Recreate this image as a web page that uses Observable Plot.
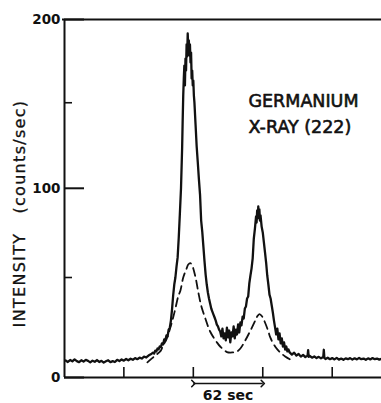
<!DOCTYPE html>
<html>
<head>
<meta charset="utf-8">
<script src="https://cdn.jsdelivr.net/npm/d3@7"></script>
<script src="https://cdn.jsdelivr.net/npm/@observablehq/plot@0.6"></script>
<style>
  html, body { margin: 0; padding: 0; background: #fff; }
  #chart svg { display: block; }
</style>
</head>
<body>
<div id="chart"></div>
<script>
// Labels
const titleLines = ["GERMANIUM", "X-RAY (222)"];
const yTitle = "INTENSITY\u00a0\u00a0\u00a0(counts/sec)";
const periodLabel = "62 sec";

// Axis ticks (intensity in counts/sec, time in seconds)
const yTickLabels = [0, 100, 200];
const yMinorTicks = [50, 150];
const xTicks = [62, 124, 186, 248];
const periodSpan = [124, 186];

// Recorded scan: [time (s), intensity (counts/sec)]
const measured = [
  [10,7.3],[12,6.6],[14,7.5],[16,6.9],[18,7.8],[20,7.0],[22,6.5],[24,7.4],[26,6.8],[28,7.6],
  [30,7.1],[32,6.4],[34,7.2],[36,6.7],[38,7.5],[40,6.6],[42,7.1],[44,6.3],[46,6.9],[48,7.4],
  [50,6.5],[52,7.0],[54,6.6],[56,7.6],[58,7.0],[60,7.8],[62,7.2],[64,8.0],[66,7.4],[68,8.1],
  [70,7.6],[72,8.4],[74,7.9],[76,8.6],[78,8.2],[80,9.1],[82,8.7],[84,9.6],[86,10.2],[88,11.0],
  [89,10.6],[90,12.0],[91,11.6],[92,13.0],[93,12.6],[94,14.0],[95,13.7],[96,15.5],[97,15.0],[98,17.5],
  [99,17.0],[100,19.5],[101,19.0],[102,22.5],[103,23.4],[104,27.1],[105,33.0],[106,40.3],[107,46.2],[108,50.0],
  [109,56.0],[110,61.0],[111,72.1],[112,85.6],[113,99.9],[114,123.1],[114.5,139.5],[115,154.3],[115.5,164.4],[116,172.2],
  [116.5,160.3],[117,176.4],[117.5,169.2],[118,184.9],[118.5,177.6],[119,191.5],[119.5,182.5],[120,187.3],[120.5,178.2],[121,184.9],
  [121.5,174.0],[122,180.0],[122.5,164.4],[123,169.2],[123.5,160.3],[124,163.2],[124.5,154.3],[125,150.1],[126,137.1],[127,124.2],
  [128,114.9],[129,105.1],[130,96.4],[131,81.6],[132,75.2],[133,67.0],[134,58.8],[135,51.6],[136,46.2],[137,41.9],
  [138,38.7],[139,36.0],[140,33.4],[141,31.8],[142,30.2],[143,28.7],[144,27.1],[145,25.0],[146,24.1],[147,22.4],
  [148,21.5],[149,19.0],[150,23.0],[151,18.0],[152,20.5],[153,17.0],[154,23.5],[155,18.5],[156,22.0],[157,16.0],
  [158,21.0],[159,19.0],[160,24.1],[161,18.0],[162,22.5],[163,20.0],[164,25.1],[165,21.0],[166,26.1],[167,24.6],
  [168,29.2],[169,28.2],[170,33.4],[171,34.5],[172,38.7],[173,39.8],[174,46.8],[175,51.1],[176,55.0],[177,60.5],
  [178,71.5],[179,77.1],[180,83.9],[180.5,80.5],[181,87.3],[181.5,82.8],[182,89.6],[182.5,85.0],[183,87.9],[183.5,81.6],
  [184,84.5],[185,78.2],[186,74.9],[187,69.3],[188,63.8],[189,58.2],[190,51.1],[191,46.2],[192,40.8],[193,38.7],
  [194,35.0],[195,31.3],[196,27.1],[197,23.5],[198,20.0],[199,23.0],[200,17.5],[201,20.5],[202,15.5],[203,18.0],
  [204,14.0],[205,16.0],[206,12.5],[207,14.0],[208,11.6],[209,12.5],[210,11.1],[212,10.1],[214,11.0],[216,9.6],
  [218,10.4],[220,9.1],[222,9.9],[224,8.9],[226,9.6],[226.5,12.2],[227,9.0],[228,9.4],[230,8.6],[232,9.2],
  [234,8.4],[236,9.0],[238,8.3],[240,8.9],[240.5,12.4],[241,8.5],[242,8.0],[244,8.6],[246,7.9],[248,8.4],
  [250,7.8],[252,8.5],[254,7.7],[256,8.2],[258,7.6],[260,8.3],[262,7.9],[264,8.4],[266,7.7],[268,8.3],
  [270,7.8],[272,8.5],[274,7.9],[276,8.2],[278,7.6],[280,8.3],[282,7.8],[284,8.4],[286,7.9],[288,8.2],
  [290,7.7],[292,8.1]
];

// Resolved two-peak profile (dashed): [time (s), intensity (counts/sec)]
const resolved = [
  [83,6.4],[86,7.8],[90,9.6],[95,12.0],[97,14.5],[100,17.5],[103.5,23.5],[106,28.7],[108,33.4],[110.5,39.8],
  [112.5,43.0],[115,50.0],[118,54.9],[119.5,57.1],[121.3,57.9],[123,56.5],[126,50.0],[128.5,41.9],[131,35.0],[134.7,28.2],
  [139,21.5],[145,16.1],[148,14.0],[154,11.3],[159,11.1],[163,11.6],[166,13.0],[170.4,17.0],[175,22.0],[179.3,27.1],
  [181,29.2],[183,30.5],[185.5,29.2],[188,26.1],[191,21.5],[192.7,18.5],[197,14.0],[201.6,11.1],[206,9.2],[210.5,7.8],
  [214,7.0]
];

const W = 381, H = 403;
const mL = 64, mR = 0, mT = 19, mB = 26;
const plotW = W - mL - mR, plotH = H - mT - mB;
const ink = "#111";
const font = "'DejaVu Sans', sans-serif";

const chart = Plot.plot({
  width: W,
  height: H,
  marginLeft: mL,
  marginRight: mR,
  marginTop: mT,
  marginBottom: mB,
  style: {background: "#fff", fontFamily: font, color: ink},
  x: {domain: [9, 292], axis: null},
  y: {type: "pow", exponent: 0.92, domain: [0, 200], axis: null},
  marks: [
    // frame: top, bottom and left edges
    Plot.ruleY([200], {stroke: ink, strokeWidth: 2, insetLeft: -2}),
    Plot.ruleY([0], {stroke: ink, strokeWidth: 2}),
    Plot.ruleX([9], {stroke: ink, strokeWidth: 2}),
    // inward ticks
    Plot.ruleY(yTickLabels, {stroke: ink, strokeWidth: 2, insetRight: plotW - 20}),
    Plot.ruleY(yMinorTicks, {stroke: ink, strokeWidth: 1.6, insetRight: plotW - 8}),
    Plot.ruleX(xTicks, {stroke: ink, strokeWidth: 1.6, insetTop: plotH - 10}),
    // y tick labels
    Plot.text(yTickLabels, {
      frameAnchor: "left", y: d => d, text: d => String(d), dx: -4,
      textAnchor: "end", fontSize: 13.5, fontWeight: "bold", fill: ink
    }),
    // curves
    Plot.line(resolved, {
      x: d => d[0], y: d => d[1], stroke: ink, strokeWidth: 1.8,
      strokeDasharray: "8,5", curve: "catmull-rom"
    }),
    Plot.line(measured, {
      x: d => d[0], y: d => d[1], stroke: ink, strokeWidth: 2.3,
      strokeLinejoin: "round", curve: "linear"
    }),
    // 62-second period arrow and label
    Plot.link([periodSpan], {
      x1: d => d[0], x2: d => d[1], y1: 0, y2: 0, dy: 6,
      stroke: ink, strokeWidth: 1.6, markerStart: "arrow", markerEnd: "arrow"
    }),
    Plot.text([periodSpan], {
      x: d => (d[0] + d[1]) / 2, y: 0, dy: 18.5, text: () => periodLabel,
      fontSize: 14, fontWeight: "bold", fill: ink, lineAnchor: "middle"
    }),
    // title inside the plot
    Plot.text([titleLines.join("\n")], {
      frameAnchor: "top-left", dx: 184, dy: 69, lineAnchor: "top",
      lineHeight: 1.5, textAnchor: "start", fontSize: 17.5, fill: ink,
      stroke: ink, strokeWidth: 0.6
    }),
    // y axis title
    Plot.text([yTitle], {
      frameAnchor: "left", rotate: -90, dx: -45, dy: 15,
      textAnchor: "middle", lineAnchor: "middle",
      fontSize: 16, fill: ink, stroke: ink, strokeWidth: 0.3
    })
  ]
});

d3.select(chart).selectAll("text")
  .filter(function () { return this.textContent === yTitle; })
  .style("letter-spacing", "1.3px");

document.getElementById("chart").append(chart);
</script>
</body>
</html>
